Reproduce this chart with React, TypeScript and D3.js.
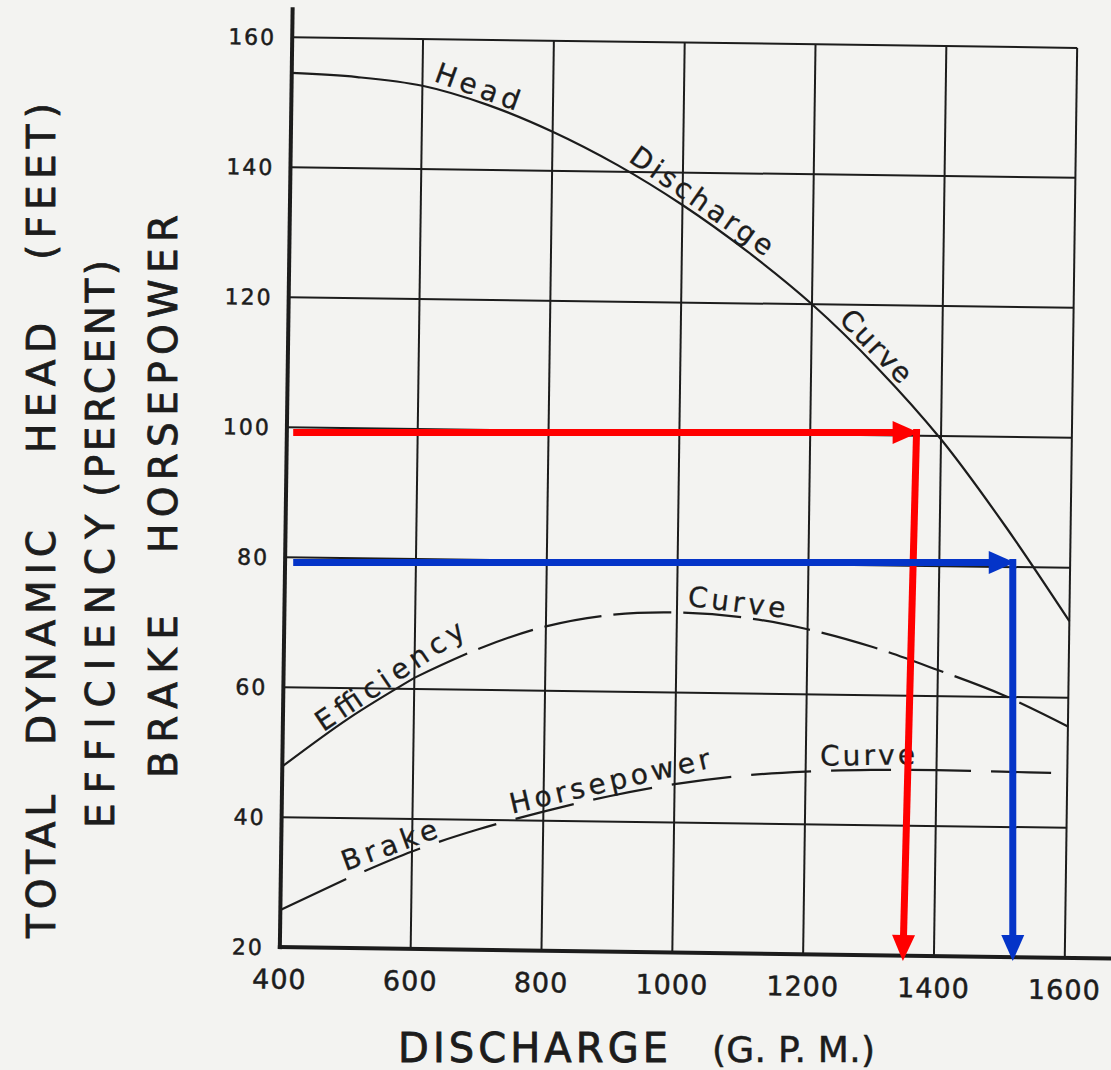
import React, { useRef, useEffect } from 'react';
import * as d3 from 'd3';

// pump characteristic curves
const discharge = [400, 500, 600, 700, 800, 900, 1000, 1100, 1200, 1300, 1400, 1500, 1600];
const headFeet = [154.5, 154.0, 152.8, 150.0, 146, 141, 135, 128, 120, 110.5, 99.5, 86.3, 71.8];
const efficiencyPct = [47.8, 55.3, 61.7, 66.4, 69.9, 71.8, 72.3, 71.7, 70.0, 67.4, 64.0, 60.3, 55.6];
const brakeHp = [25.7, 30.6, 35.0, 38.5, 41.4, 43.9, 45.9, 47.3, 48.1, 48.5, 48.6, 48.5, 48.4];

const xTicks = [400, 600, 800, 1000, 1200, 1400, 1600];
const yTicks = [20, 40, 60, 80, 100, 120, 140, 160];

// words written along the curves (at = discharge under the middle of the word)
const curveLabels = [
    { text: 'Head', series: 'head', at: 677, angle: 20, len: 88 },
    { text: 'Discharge', series: 'head', at: 1017, angle: 35, len: 168 },
    { text: 'Curve', series: 'head', at: 1283, angle: 46, len: 90 },
    { text: 'Efficiency', series: 'eff', at: 575, angle: -34, len: 173 },
    { text: 'Curve', series: 'eff', at: 1089, angle: 7, len: 98 },
    { text: 'Brake', series: 'bhp', at: 573, angle: -20, len: 100 },
    { text: 'Horsepower', series: 'bhp', at: 906, angle: -13, len: 205 },
    { text: 'Curve', series: 'bhp', at: 1295, angle: -1, len: 95 },
];

// read-off arrows drawn over the chart: level -> corner discharge -> discharge at the axis
const readOffs = [
    { color: '#ff0000', level: 100, from: 411, corner: 1364, to: 1343, tip: 18.7 },
    { color: '#0434c8', level: 80, from: 411, corner: 1511, to: 1511, tip: 18.7 },
];

// left titles, one entry per word: column centre, bottom and top of the word
const yTitleWords = [
    { text: 'TOTAL', cx: 41, y0: 938, y1: 795 },
    { text: 'DYNAMIC', cx: 41, y0: 745, y1: 530 },
    { text: 'HEAD', cx: 41, y0: 453, y1: 323 },
    { text: '(FEET)', cx: 41, y0: 260, y1: 103 },
    { text: 'EFFICIENCY', cx: 100, y0: 828, y1: 515 },
    { text: '(PERCENT)', cx: 100, y0: 497, y1: 260 },
    { text: 'BRAKE', cx: 163, y0: 778, y1: 615 },
    { text: 'HORSEPOWER', cx: 163, y0: 553, y1: 215 },
];

const App = () => {
    const svgRef = useRef<SVGSVGElement | null>(null);

    useEffect(() => {
        const svg = d3.select(svgRef.current);
        svg.selectAll('*').remove();

        const width = 1111;
        const height = 1070;
        const ink = '#1c1c1c';
        const font = '"DejaVu Sans", sans-serif';

        const x = d3.scaleLinear().domain([400, 1600]).range([286, 1071]);
        const y = d3.scaleLinear().domain([20, 160]).range([952.5, 42.5]);

        svg.append('rect').attr('width', width).attr('height', height).attr('fill', '#f3f3f1');

        // the scanned sheet sits slightly askew
        const chart = svg.append('g').attr('transform', 'rotate(0.78, 678.5, 497.5)');

        // grid
        chart.append('g')
            .selectAll('line')
            .data(xTicks.slice(1))
            .enter()
            .append('line')
            .attr('x1', d => x(d))
            .attr('x2', d => x(d))
            .attr('y1', y(160))
            .attr('y2', y(20))
            .attr('stroke', ink)
            .attr('stroke-width', 2);

        chart.append('g')
            .selectAll('line')
            .data(yTicks.slice(1))
            .enter()
            .append('line')
            .attr('x1', x(400))
            .attr('x2', x(1600))
            .attr('y1', d => y(d))
            .attr('y2', d => y(d))
            .attr('stroke', ink)
            .attr('stroke-width', 2);

        // heavy axes
        chart.append('line')
            .attr('x1', x(400)).attr('x2', x(400))
            .attr('y1', y(160) - 30).attr('y2', y(20) + 2)
            .attr('stroke', ink).attr('stroke-width', 4);
        chart.append('line')
            .attr('x1', x(400) - 2).attr('x2', x(1600) + 48)
            .attr('y1', y(20)).attr('y2', y(20))
            .attr('stroke', ink).attr('stroke-width', 4);

        // tick labels
        chart.append('g')
            .selectAll('text')
            .data(yTicks)
            .enter()
            .append('text')
            .attr('x', 270)
            .attr('y', d => y(d) + 8)
            .attr('text-anchor', 'end')
            .attr('font-family', font)
            .attr('font-size', 22)
            .attr('letter-spacing', 2)
            .attr('fill', ink)
            .attr('stroke', ink)
            .attr('stroke-width', 0.5)
            .text(d => d);

        chart.append('g')
            .selectAll('text')
            .data(xTicks)
            .enter()
            .append('text')
            .attr('x', d => x(d))
            .attr('y', 994)
            .attr('text-anchor', 'middle')
            .attr('font-family', font)
            .attr('font-size', 27)
            .attr('letter-spacing', 1)
            .attr('fill', ink)
            .attr('stroke', ink)
            .attr('stroke-width', 0.5)
            .text(d => d);

        // curves
        const line = d3.line<[number, number]>()
            .x(d => x(d[0]))
            .y(d => y(d[1]))
            .curve(d3.curveCatmullRom.alpha(0.5));
        const pts = (vals: number[]) => discharge.map((g, i) => [g, vals[i]] as [number, number]);

        chart.append('path')
            .attr('d', line(pts(headFeet)))
            .attr('fill', 'none').attr('stroke', ink).attr('stroke-width', 2.2);

        chart.append('path')
            .attr('d', line(pts(efficiencyPct).filter(p => p[0] <= 600)))
            .attr('fill', 'none').attr('stroke', ink).attr('stroke-width', 2.2);
        chart.append('path')
            .attr('d', line(pts(efficiencyPct).filter(p => p[0] >= 600)))
            .attr('fill', 'none').attr('stroke', ink).attr('stroke-width', 2.2)
            .attr('stroke-dasharray', '58,12');

        chart.append('path')
            .attr('d', line(pts(brakeHp).filter(p => p[0] <= 500)))
            .attr('fill', 'none').attr('stroke', ink).attr('stroke-width', 2.2);
        chart.append('path')
            .attr('d', line(pts(brakeHp).filter(p => p[0] >= 500)))
            .attr('fill', 'none').attr('stroke', ink).attr('stroke-width', 2.2)
            .attr('stroke-dasharray', '60,20')
            .attr('stroke-dashoffset', 60);

        // curve lettering
        const interp: Record<string, d3.ScaleLinear<number, number>> = {
            head: d3.scaleLinear().domain(discharge).range(headFeet),
            eff: d3.scaleLinear().domain(discharge).range(efficiencyPct),
            bhp: d3.scaleLinear().domain(discharge).range(brakeHp),
        };
        chart.append('g')
            .selectAll('text')
            .data(curveLabels)
            .enter()
            .append('text')
            .attr('transform', d => `translate(${x(d.at)},${y(interp[d.series](d.at))}) rotate(${d.angle - 0.78})`)
            .attr('y', -5)
            .attr('text-anchor', 'middle')
            .attr('font-family', font)
            .attr('font-size', 28)
            .attr('textLength', d => d.len)
            .attr('lengthAdjust', 'spacing')
            .attr('fill', ink)
            .attr('stroke', ink)
            .attr('stroke-width', 0.3)
            .text(d => d.text);

        // axis titles
        svg.append('g')
            .selectAll('text')
            .data(yTitleWords)
            .enter()
            .append('text')
            .attr('transform', d => `translate(${d.cx + 14},${d.y0}) rotate(-90)`)
            .attr('font-family', font)
            .attr('font-size', 39)
            .attr('textLength', d => d.y0 - d.y1)
            .attr('lengthAdjust', 'spacing')
            .attr('fill', ink)
            .attr('stroke', ink)
            .attr('stroke-width', 0.8)
            .text(d => d.text);

        svg.append('text')
            .attr('x', 398).attr('y', 1062)
            .attr('font-family', font).attr('font-size', 40)
            .attr('textLength', 270).attr('lengthAdjust', 'spacing')
            .attr('fill', ink).attr('stroke', ink).attr('stroke-width', 0.8)
            .text('DISCHARGE');
        svg.append('text')
            .attr('x', 712).attr('y', 1062)
            .attr('font-family', font).attr('font-size', 36)
            .attr('textLength', 163).attr('lengthAdjust', 'spacing')
            .attr('fill', ink).attr('stroke', ink).attr('stroke-width', 0.5)
            .text('(G. P. M.)');

        // read-off arrows
        const arrow = (from: [number, number], to: [number, number], color: string) => {
            const dx = to[0] - from[0];
            const dy = to[1] - from[1];
            const len = Math.hypot(dx, dy);
            const ux = dx / len;
            const uy = dy / len;
            const head = 26;
            const half = 11.5;
            const bx = to[0] - ux * head;
            const by = to[1] - uy * head;
            svg.append('line')
                .attr('x1', from[0]).attr('y1', from[1])
                .attr('x2', bx + ux * 2).attr('y2', by + uy * 2)
                .attr('stroke', color).attr('stroke-width', 7);
            svg.append('polygon')
                .attr('points', [[to[0], to[1]], [bx - uy * half, by + ux * half], [bx + uy * half, by - ux * half]]
                    .map(p => p.join(',')).join(' '))
                .attr('fill', color);
        };

        readOffs.forEach(r => {
            arrow([x(r.from), y(r.level)], [x(r.corner) + 2, y(r.level)], r.color);
            arrow([x(r.corner), y(r.level) - 3.5], [x(r.to), y(r.tip)], r.color);
        });
    }, []);

    return (
        <div style={{ position: 'absolute', left: 0, top: 0 }}>
            <svg ref={svgRef} width={1111} height={1070} style={{ display: 'block' }} />
        </div>
    );
};

export default App;
